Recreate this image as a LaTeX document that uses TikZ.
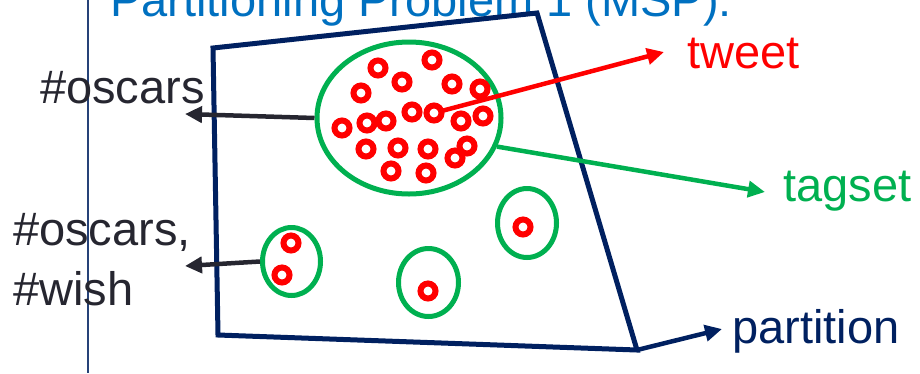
\documentclass[tikz,border=0pt]{standalone}
\usepackage{fontspec}
\setmainfont{Liberation Sans}
\usetikzlibrary{shapes.geometric,arrows.meta}
\definecolor{navy}{HTML}{002060}
\definecolor{tgreen}{HTML}{00B050}
\definecolor{tred}{HTML}{FF0000}
\definecolor{tblue}{HTML}{0070C0}
\definecolor{tgray}{HTML}{262630}
\tikzset{
  ring/.style={circle,draw=tred,line width=6pt,minimum size=15pt,inner sep=0pt,outer sep=0pt},
  tagset/.style={ellipse,draw=tgreen,line width=5pt,inner sep=0pt},
  lbl/.style={anchor=base west,inner sep=0pt,font=\fontsize{47}{56}\selectfont},
  arr/.style={line width=4.5pt,-{Triangle[length=17pt,width=16pt]}},
}
\begin{document}
\begin{tikzpicture}[x=1pt,y=-1pt]
\useasboundingbox (0,0) rectangle (920,373);
\clip (0,0) rectangle (920,373);
% title (cut at top, as in the reference)
\node[lbl,text=tblue] (title) at (110,16) {Partitioning Problem 1 (MSP):};
% thin vertical rule
\coordinate (vr1) at (88,0);
\coordinate (vr2) at (88,373);
\draw[navy!85!white,line width=1.2pt] (vr1) -- (vr2);
% partition quadrilateral
\coordinate (c1) at (213,48);
\coordinate (c2) at (537,13);
\coordinate (c3) at (637,350);
\coordinate (c4) at (218,335);
\draw[navy,line width=5pt,line join=miter] (c1) -- (c2) -- (c3) -- (c4) -- cycle;
% tagsets
\node[tagset,minimum width=184pt,minimum height=152pt] (big) at (409,118) {};
\node[tagset,minimum width=58pt,minimum height=68pt] (s1) at (291.5,261.5) {};
\node[tagset,minimum width=59pt,minimum height=69pt] (s2) at (527,223) {};
\node[tagset,minimum width=60pt,minimum height=68pt] (s3) at (428.5,282.5) {};
% tweets
\foreach \n/\px/\py in {1/378/68,2/432/60,3/402/82,4/361/93,5/452/84,6/480/89,
  7/412/112,8/434/113,9/342/128,10/367/123,11/386/121,12/461/121,13/483/116,
  14/366/149,15/398/148,16/428/149,17/467/146,18/455/158,19/391/171,20/426/173}
  \node[ring] (t\n) at (\px,\py) {};
\node[ring] (t21) at (291,243) {};
\node[ring] (t22) at (282,275) {};
\node[ring] (t23) at (523,227) {};
\node[ring] (t24) at (428,291) {};
% labels
\node[lbl,text=tred] (ltweet) at (687,68) {tweet};
\node[lbl,text=tgreen] (ltagset) at (783,201) {tagset};
\node[lbl,text=navy] (lpart) at (732,343) {partition};
\node[lbl,text=tgray] (losc) at (40,103) {\#oscars};
\node[lbl,text=tgray] (losc2a) at (13,245) {\#oscars,};
\node[lbl,text=tgray] (losc2b) at (13,305) {\#wish};
% connectors
\coordinate (tweettip) at (664,52);
\coordinate (tagtip) at (765,192);
\coordinate (parttip) at (722,329);
\coordinate (osctip) at (185,114);
\coordinate (osc2tip) at (185,266);
\draw[arr,tred] (t8) -- (tweettip);
\draw[arr,tgreen] (big.-18) -- (tagtip);
\draw[arr,navy] (c3) -- (parttip);
\draw[arr,tgray] (big.west) -- (osctip);
\draw[arr,tgray] (s1.west) -- (osc2tip);
\end{tikzpicture}
\end{document}
